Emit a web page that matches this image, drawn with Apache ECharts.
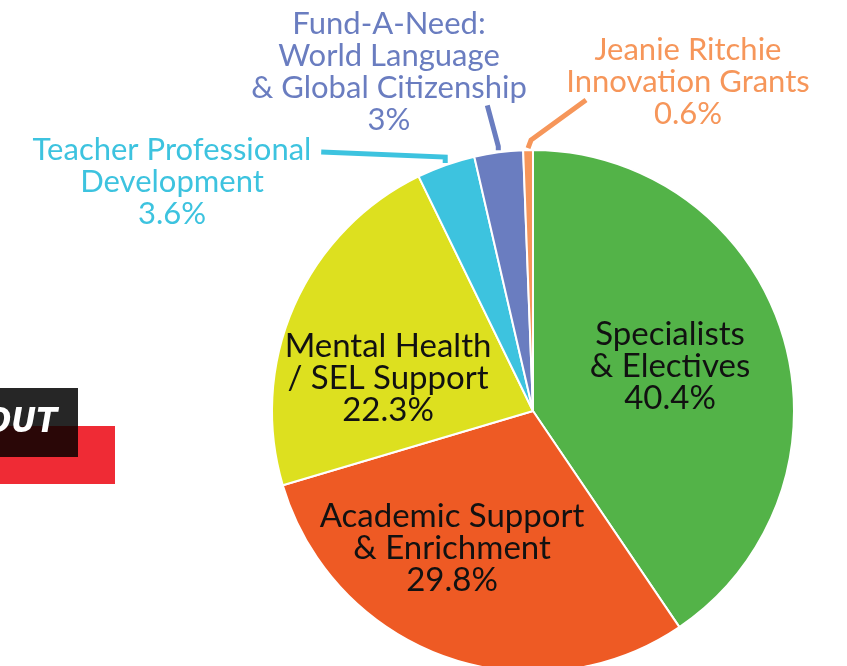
<!DOCTYPE html>
<html>
<head>
<meta charset="utf-8">
<script src="https://cdn.jsdelivr.net/npm/echarts@6/dist/echarts.min.js"></script>
<style>
  html, body { margin: 0; padding: 0; background: #fff; }
  #main { width: 847px; height: 666px; }
</style>
</head>
<body>
<div id="main"></div>
<script>
// budget split, clockwise from 12 o'clock
var names = [
    'Specialists\n& Electives',
    'Academic Support\n& Enrichment',
    'Mental Health\n/ SEL Support',
    'Teacher Professional\nDevelopment',
    'Fund-A-Need:\nWorld Language\n& Global Citizenship',
    'Jeanie Ritchie\nInnovation Grants'
];
var values = [40.4, 29.8, 22.3, 3.6, 3, 0.6];
var colors = ['#53b348', '#ee5a24', '#dde01f', '#3dc3df', '#6a7dc0', '#f6965a'];
var inside = [true, true, true, false, false, false];

var CX = 533, CY = 411, R = 261;

// where each label sits (centre of the text block)
var labelPos = [
    [670, 366], [452, 548], [388, 378],
    [172, 182], [389, 72], [688, 82]
];
// leader line: short rise off the edge, then a bend toward the text
var leaderBend = [null, null, null, [[0, -6], [-124, -11]], [[0, -4], [-11, -45]], [[3, -8], [58, -48]]];

// point just outside the rim at the middle of slice k
function rimPoint(k) {
    var total = 0, before = 0;
    for (var j = 0; j < values.length; j++) {
        total += values[j];
        if (j < k) before += values[j];
    }
    var a = (before + values[k] / 2) / total * Math.PI * 2;
    return [CX + (R + 2) * Math.sin(a), CY - (R + 2) * Math.cos(a)];
}

var pieData = [];
var leaders = [];
for (var i = 0; i < values.length; i++) {
    pieData.push({
        name: names[i],
        value: values[i],
        itemStyle: { color: colors[i] },
        label: {
            color: inside[i] ? '#111' : colors[i],
            fontSize: inside[i] ? 33 : 31,
            textBorderWidth: 0
        }
    });
    if (leaderBend[i]) {
        var p0 = rimPoint(i);
        var p1 = [p0[0] + leaderBend[i][0][0], p0[1] + leaderBend[i][0][1]];
        var p2 = [p0[0] + leaderBend[i][1][0], p0[1] + leaderBend[i][1][1]];
        leaders.push({
            type: 'polyline', zlevel: 1, z: 100,
            shape: { points: [p0, p1, p2] },
            style: { stroke: colors[i], lineWidth: 5, fill: null }
        });
    }
}

var myChart = echarts.init(document.getElementById('main'));

var option = {
    animation: false,
    backgroundColor: '#fff',
    graphic: [
        { type: 'rect', shape: { x: 0, y: 426, width: 115, height: 58 }, style: { fill: '#ef2b35' } },
        { type: 'rect', shape: { x: 0, y: 388, width: 78, height: 69 }, style: { fill: '#262626' } },
        { type: 'rect', shape: { x: 0, y: 426, width: 78, height: 31 }, style: { fill: '#2a0707' } },
        {
            type: 'text', x: 57, y: 423,
            style: {
                text: 'OUT', fill: '#fff', align: 'right', verticalAlign: 'middle',
                font: 'italic bold 34px "DejaVu Sans Condensed"'
            }
        }
    ].concat(leaders),
    series: [{
        type: 'pie',
        center: [CX, CY],
        radius: R,
        startAngle: 90,
        clockwise: true,
        avoidLabelOverlap: false,
        itemStyle: { borderColor: '#fff', borderWidth: 2 },
        label: {
            fontFamily: 'Lato',
            lineHeight: 32,
            align: 'center',
            formatter: function (p) {
                return p.name + '\n' + p.value + '%';
            }
        },
        labelLine: { show: false },
        labelLayout: function (params) {
            var pos = labelPos[params.dataIndex];
            return {
                x: pos[0],
                y: pos[1],
                align: 'center',
                verticalAlign: 'middle'
            };
        },
        data: pieData
    }]
};

myChart.setOption(option);
</script>
</body>
</html>
